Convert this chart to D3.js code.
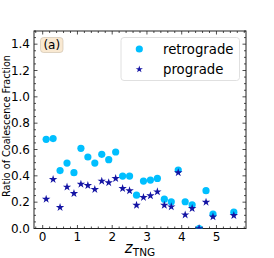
<!DOCTYPE html>
<html>
<head>
<meta charset="utf-8">
<script src="https://cdn.jsdelivr.net/npm/d3@7"></script>
<style>
  body { margin: 0; background: #fff; }
  svg { display: block; font-family: "DejaVu Sans", sans-serif; }
</style>
</head>
<body>
<div id="chart"></div>
<script>
// redshift bins and fractions
var zBins = [0.1, 0.3, 0.5, 0.7, 0.9, 1.1, 1.3, 1.5, 1.7, 1.9, 2.1, 2.3, 2.5, 2.7,
  2.9, 3.1, 3.3, 3.5, 3.7, 3.9, 4.1, 4.3, 4.5, 4.7, 4.9, 5.5];
var retrograde = [0.677, 0.683, 0.44, 0.497, 0.424, 0.609, 0.543, 0.497, 0.563, 0.523, 0.581, 0.398, 0.398, 0.253,
  0.36, 0.368, 0.38, 0.223, 0.203, 0.444, 0.203, 0.18, 0.0, 0.287, 0.109, 0.124];
var prograde = [0.223, 0.373, 0.16, 0.315, 0.266, 0.337, 0.327, 0.297, 0.36, 0.348, 0.38, 0.304, 0.287, 0.177,
  0.236, 0.249, 0.279, 0.177, 0.165, 0.424, 0.104, 0.152, 0.0, 0.2, 0.089, 0.099];
var xTicks = [0, 1, 2, 3, 4, 5];
var yTicks = [0.0, 0.2, 0.4, 0.6, 0.8, 1.0, 1.2, 1.4];

var width = 274, height = 258;
// (window.top is reserved, so plot edges get their own names)
var pLeft = 34, pRight = 246, pTop = 31, pBottom = 228.5;

var x = d3.scaleLinear().domain([-0.25, 5.85]).range([pLeft, pRight]);
var y = d3.scaleLinear().domain([0, 1.5]).range([pBottom, pTop]);

var svg = d3.select('#chart').append('svg')
  .attr('width', width)
  .attr('height', height);

svg.append('clipPath').attr('id', 'plotclip')
  .append('rect')
  .attr('x', pLeft).attr('y', pTop)
  .attr('width', pRight - pLeft).attr('height', pBottom - pTop);

var xMinor = d3.range(-0.2, 5.85, 0.2).map(d => Math.round(d * 10) / 10);
var yMinor = d3.range(0, 1.501, 0.05).map(d => Math.round(d * 100) / 100);

// ticks pointing inward on all sides
var ax = svg.append('g').attr('stroke', '#222').attr('stroke-width', 0.8);
xMinor.forEach(function(t) {
  var big = xTicks.indexOf(t) >= 0;
  var len = big ? 3.5 : 2;
  ax.append('line').attr('x1', x(t)).attr('x2', x(t)).attr('y1', pBottom).attr('y2', pBottom - len);
  ax.append('line').attr('x1', x(t)).attr('x2', x(t)).attr('y1', pTop).attr('y2', pTop + len);
});
yMinor.forEach(function(t) {
  var big = yTicks.some(v => Math.abs(v - t) < 1e-6);
  var len = big ? 3.5 : 2;
  ax.append('line').attr('y1', y(t)).attr('y2', y(t)).attr('x1', pLeft).attr('x2', pLeft + len);
  ax.append('line').attr('y1', y(t)).attr('y2', y(t)).attr('x1', pRight).attr('x2', pRight - len);
});

svg.append('rect')
  .attr('x', pLeft).attr('y', pTop)
  .attr('width', pRight - pLeft).attr('height', pBottom - pTop)
  .attr('fill', 'none').attr('stroke', '#222').attr('stroke-width', 1);

svg.selectAll('.xlab').data(xTicks).enter().append('text')
  .attr('x', d => x(d)).attr('y', pBottom + 12)
  .attr('text-anchor', 'middle')
  .attr('font-size', 12)
  .text(d => d);

svg.selectAll('.ylab').data(yTicks).enter().append('text')
  .attr('x', pLeft - 4).attr('y', d => y(d) + 4.3)
  .attr('text-anchor', 'end')
  .attr('font-size', 12)
  .text(d => d.toFixed(1));

svg.append('text')
  .attr('transform', 'translate(9.5,126) rotate(-90)')
  .attr('text-anchor', 'middle')
  .attr('font-size', 9.6)
  .text('Ratio of Coalescence Fraction');

var xl = svg.append('text')
  .attr('x', 140).attr('y', 253)
  .attr('text-anchor', 'middle');
xl.append('tspan').attr('font-style', 'italic').attr('font-size', 15).text('z');
xl.append('tspan').attr('font-size', 10.5).attr('dy', 2.5).text('TNG');

var plot = svg.append('g').attr('clip-path', 'url(#plotclip)');

plot.selectAll('.retro').data(zBins).enter().append('circle')
  .attr('cx', d => x(d))
  .attr('cy', (d, i) => y(retrograde[i]))
  .attr('r', 3.6)
  .attr('fill', '#00bfff');

var star = d3.symbol().type(d3.symbolStar).size(22);
plot.selectAll('.pro').data(zBins).enter().append('path')
  .attr('d', star)
  .attr('transform', (d, i) => 'translate(' + x(d) + ',' + y(prograde[i]) + ')')
  .attr('fill', '#1414a4');

// panel tag
svg.append('rect')
  .attr('x', 40.5).attr('y', 37.5).attr('width', 22.5).attr('height', 15)
  .attr('rx', 3)
  .attr('fill', '#f9e9d2').attr('stroke', '#c9bca8').attr('stroke-width', 0.6);
svg.append('text')
  .attr('x', 51.8).attr('y', 49.2)
  .attr('text-anchor', 'middle')
  .attr('font-size', 12)
  .text('(a)');

// legend
var lg = svg.append('g');
lg.append('rect')
  .attr('x', 121).attr('y', 37.5).attr('width', 118.5).attr('height', 43)
  .attr('rx', 3)
  .attr('fill', 'rgba(255,255,255,0.8)').attr('stroke', '#d8d8d8').attr('stroke-width', 0.8);
lg.append('circle').attr('cx', 139.3).attr('cy', 49).attr('r', 3.6).attr('fill', '#00bfff');
lg.append('path').attr('d', d3.symbol().type(d3.symbolStar).size(16)).attr('transform', 'translate(139.3,69.3)').attr('fill', '#1414a4');
lg.append('text').attr('x', 163).attr('y', 53.8).attr('font-size', 13.3).text('retrograde');
lg.append('text').attr('x', 163).attr('y', 73.8).attr('font-size', 13.3).text('prograde');
</script>
</body>
</html>
